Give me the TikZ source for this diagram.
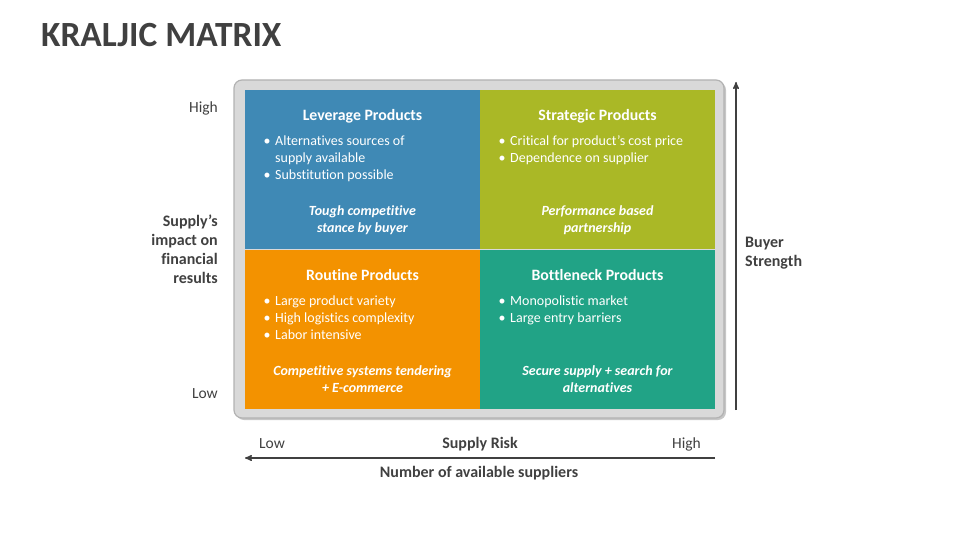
\documentclass[tikz,border=0pt]{standalone}
\usepackage{fontspec}
\setmainfont{Carlito}[Ligatures={TeX,NoCommon}]
\usetikzlibrary{arrows,shadows}

\definecolor{levblue}{HTML}{3F89B5}
\definecolor{strgreen}{HTML}{AAB826}
\definecolor{rouorange}{HTML}{F39200}
\definecolor{botteal}{HTML}{21A386}
\definecolor{framegray}{HTML}{D9D9D9}
\definecolor{inkgray}{HTML}{404040}

\begin{document}
\begin{tikzpicture}[x=1pt,y=-1pt,>=stealth',
		quad/.style={rectangle,anchor=north west,inner sep=0pt,
			minimum width=235pt,minimum height=159pt},
		head/.style={anchor=base,text=white,inner sep=0pt,
			font=\fontsize{15.8}{17}\selectfont\bfseries},
		bullets/.style={anchor=base west,text=white,inner sep=0pt,
			font=\fontsize{14}{17}\selectfont},
		tagline/.style={anchor=base,text=white,inner sep=0pt,
			font=\fontsize{14}{17}\selectfont\bfseries\itshape},
		axislabel/.style={text=inkgray,inner sep=0pt,
			font=\fontsize{15.5}{19.3}\selectfont},
		axisname/.style={axislabel,font=\fontsize{16}{19.3}\selectfont\bfseries},
		axisline/.style={->,draw=inkgray,line width=1.4pt}]

	\useasboundingbox (0,0) rectangle (960,540);

	\node[anchor=base west,text=inkgray,inner sep=0pt,
		font=\fontsize{35.4}{40}\selectfont\bfseries] (title) at (41,47) {KRALJIC MATRIX};

	\filldraw[fill=framegray,draw=black!30,line width=1.2pt,rounded corners=8pt,
		drop shadow={shadow xshift=2pt,shadow yshift=-2pt,opacity=.45}]
		(234,80) rectangle (724,418);

	\node[quad,fill=levblue] (lev) at (245,90) {};
	\node[quad,fill=strgreen] (str) at (480,90) {};
	\node[quad,fill=rouorange] (rou) at (245,249.5) {};
	\node[quad,fill=botteal] (bot) at (480,249.5) {};

	\node[head] (levhead) at (362.5,121) {Leverage Products};
	\node[bullets] (levlist) at (263.5,146) {\begin{tabular}[t]{@{}p{11.5pt}@{}l@{}}
		\textbullet & Alternatives sources of\\
		& supply available\\
		\textbullet & Substitution possible\end{tabular}};
	\node[tagline] (levtag) at (362.5,215) {\begin{tabular}[t]{@{}c@{}}
		Tough competitive\\ stance by buyer\end{tabular}};

	\node[head] (strhead) at (597.5,121) {Strategic Products};
	\node[bullets] (strlist) at (498.5,146) {\begin{tabular}[t]{@{}p{11.5pt}@{}l@{}}
		\textbullet & Critical for product’s cost price\\
		\textbullet & Dependence on supplier\end{tabular}};
	\node[tagline] (strtag) at (597.5,215) {\begin{tabular}[t]{@{}c@{}}
		Performance based\\ partnership\end{tabular}};

	\node[head] (rouhead) at (362.5,280) {Routine Products};
	\node[bullets] (roulist) at (263.5,305) {\begin{tabular}[t]{@{}p{11.5pt}@{}l@{}}
		\textbullet & Large product variety\\
		\textbullet & High logistics complexity\\
		\textbullet & Labor intensive\end{tabular}};
	\node[tagline] (routag) at (362.5,375) {\begin{tabular}[t]{@{}c@{}}
		Competitive systems tendering\\ + E-commerce\end{tabular}};

	\node[head] (bothead) at (597.5,280) {Bottleneck Products};
	\node[bullets] (botlist) at (498.5,305) {\begin{tabular}[t]{@{}p{11.5pt}@{}l@{}}
		\textbullet & Monopolistic market\\
		\textbullet & Large entry barriers\end{tabular}};
	\node[tagline] (bottag) at (597.5,375) {\begin{tabular}[t]{@{}c@{}}
		Secure supply + search for\\ alternatives\end{tabular}};

	\node[axislabel,anchor=base east] (yhigh) at (218,113) {High};
	\node[axislabel,anchor=base east] (ylow) at (218,398) {Low};
	\node[axisname,anchor=base east] (yname) at (218,226) {\begin{tabular}[t]{@{}r@{}}
		Supply’s\\ impact on\\ financial\\ results\end{tabular}};

	\coordinate (ybot) at (736,410);
	\coordinate (ytop) at (736,82);
	\draw[axisline] (ybot) -- (ytop);
	\node[axisname,anchor=base west] (yright) at (745,247) {\begin{tabular}[t]{@{}l@{}}
		Buyer\\ Strength\end{tabular}};

	\node[axislabel,anchor=base west] (xlow) at (259,448) {Low};
	\node[axisname,anchor=base] (xname) at (480,448) {Supply Risk};
	\node[axislabel,anchor=base east] (xhigh) at (701,448) {High};

	\coordinate (xright) at (715,458);
	\coordinate (xleft) at (245,458);
	\draw[axisline] (xright) -- (xleft);
	\node[axisname,anchor=base] (xbottom) at (479,477) {Number of available suppliers};
\end{tikzpicture}
\end{document}
